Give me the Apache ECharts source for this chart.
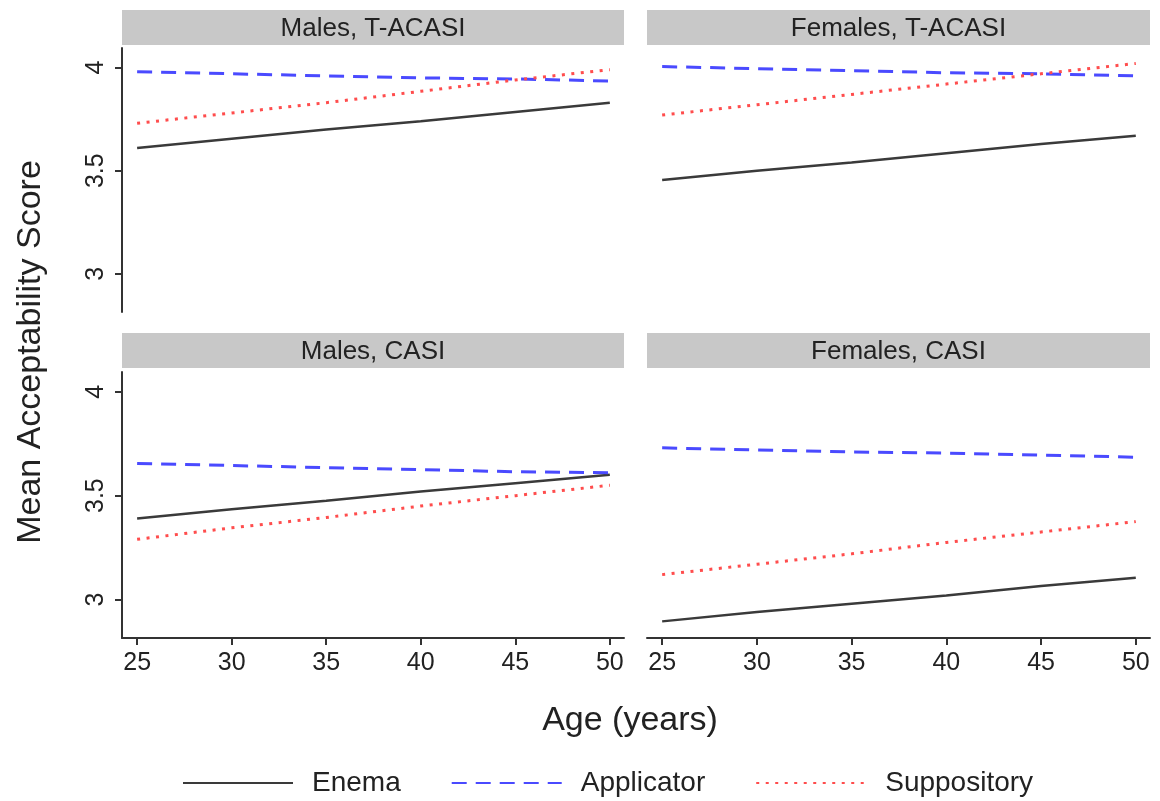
<!DOCTYPE html>
<html>
<head>
<meta charset="utf-8">
<script src="https://cdn.jsdelivr.net/npm/echarts@6/dist/echarts.min.js"></script>
<style>
html,body{margin:0;padding:0;background:#fff;}
#chart{width:1160px;height:801px;}
</style>
</head>
<body>
<div id="chart"></div>
<script>
// ---- data ----
const ages = [25, 30, 35, 40, 45, 50];
const panelTitles = ['Males, T-ACASI', 'Females, T-ACASI', 'Males, CASI', 'Females, CASI'];
const seriesNames = ['Enema', 'Applicator', 'Suppository'];
const xTicks = [25, 30, 35, 40, 45, 50];
const yTicks = [3, 3.5, 4];

// Males, T-ACASI
const enemaMT = [3.61, 3.655, 3.70, 3.74, 3.785, 3.83];
const applicMT = [3.98, 3.97, 3.96, 3.95, 3.945, 3.935];
const suppMT = [3.73, 3.78, 3.83, 3.885, 3.94, 3.99];
// Females, T-ACASI
const enemaFT = [3.455, 3.50, 3.54, 3.585, 3.63, 3.67];
const applicFT = [4.005, 3.995, 3.985, 3.975, 3.97, 3.96];
const suppFT = [3.77, 3.82, 3.87, 3.92, 3.97, 4.02];
// Males, CASI
const enemaMC = [3.39, 3.435, 3.475, 3.52, 3.56, 3.60];
const applicMC = [3.655, 3.645, 3.635, 3.625, 3.615, 3.61];
const suppMC = [3.29, 3.345, 3.395, 3.45, 3.50, 3.55];
// Females, CASI
const enemaFC = [2.895, 2.94, 2.98, 3.02, 3.065, 3.105];
const applicFC = [3.73, 3.72, 3.71, 3.705, 3.695, 3.685];
const suppFC = [3.12, 3.17, 3.22, 3.275, 3.325, 3.375];

const panelData = [
  [enemaMT, applicMT, suppMT],
  [enemaFT, applicFT, suppFT],
  [enemaMC, applicMC, suppMC],
  [enemaFC, applicFC, suppFC]
];

// ---- styling / layout ----
const FONT = "'Liberation Sans', Arial, sans-serif";
const AXIS_COLOR = '#333';
const grids = [
  {left: 122, top: 48, width: 502, height: 264},
  {left: 647, top: 48, width: 503, height: 264},
  {left: 122, top: 372, width: 502, height: 266},
  {left: 647, top: 372, width: 503, height: 266}
];
const lineStyles = [
  {color: '#3a3a3a', width: 2.5, type: 'solid'},
  {color: '#4a4aff', width: 3, type: [15, 9]},
  {color: '#ff4d4d', width: 3, type: [3, 6.5]}
];
const stripTops = [10, 10, 333, 333];
const stripH = 35;

const xAxes = [], yAxes = [], series = [], graphics = [];
grids.forEach((g, i) => {
  const bottomRow = i >= 2;
  const leftCol = i % 2 === 0;
  xAxes.push({
    type: 'value', gridIndex: i, min: 24.2, max: 50.75,
    show: bottomRow,
    axisLine: {show: true, onZero: false, lineStyle: {color: AXIS_COLOR, width: 2}},
    axisTick: {show: true, length: 7, customValues: xTicks, lineStyle: {color: AXIS_COLOR, width: 2}},
    axisLabel: {show: true, customValues: xTicks, fontFamily: FONT, fontSize: 25, color: '#222', margin: 13},
    splitLine: {show: false}
  });
  yAxes.push({
    type: 'value', gridIndex: i, min: 2.815, max: 4.095,
    show: leftCol,
    axisLine: {show: true, onZero: false, lineStyle: {color: AXIS_COLOR, width: 2}},
    axisTick: {show: true, length: 7, customValues: yTicks, lineStyle: {color: AXIS_COLOR, width: 2}},
    axisLabel: {show: true, customValues: yTicks, rotate: 90, fontFamily: FONT, fontSize: 25, color: '#222', margin: 13},
    splitLine: {show: false}
  });
  panelData[i].forEach((vals, k) => {
    series.push({
      type: 'line', name: seriesNames[k], xAxisIndex: i, yAxisIndex: i,
      data: ages.map((a, j) => [a, vals[j]]),
      symbol: 'none', silent: true, animation: false,
      lineStyle: lineStyles[k], itemStyle: {color: lineStyles[k].color}
    });
  });
  const stripW = leftCol ? 502 : 503;
  graphics.push({
    type: 'rect', shape: {x: g.left, y: stripTops[i], width: stripW, height: stripH},
    style: {fill: '#c8c8c8'}, silent: true
  });
  graphics.push({
    type: 'text', x: g.left + stripW / 2, y: stripTops[i] + stripH / 2 + 1,
    style: {text: panelTitles[i], font: '26px ' + FONT, fill: '#222', textAlign: 'center', textVerticalAlign: 'middle'},
    silent: true
  });
});

graphics.push({
  type: 'text', x: 31, y: 352, rotation: Math.PI / 2,
  style: {text: 'Mean Acceptability Score', font: '34px ' + FONT, fill: '#222', textAlign: 'center', textVerticalAlign: 'middle'},
  silent: true
});
graphics.push({
  type: 'text', x: 630, y: 721,
  style: {text: 'Age (years)', font: '34px ' + FONT, fill: '#222', textAlign: 'center', textVerticalAlign: 'middle'},
  silent: true
});

const chart = echarts.init(document.getElementById('chart'), null, {renderer: 'canvas'});
chart.setOption({
  backgroundColor: '#fff',
  animation: false,
  grid: grids,
  xAxis: xAxes,
  yAxis: yAxes,
  series: series,
  legend: {
    data: seriesNames,
    left: 177, top: 764,
    itemWidth: 110, itemHeight: 16, itemGap: 50,
    itemStyle: {opacity: 0},
    textStyle: {fontFamily: FONT, fontSize: 28, color: '#222', padding: [0, 0, 0, 14]},
    selectedMode: false
  },
  graphic: graphics
});
</script>
</body>
</html>
